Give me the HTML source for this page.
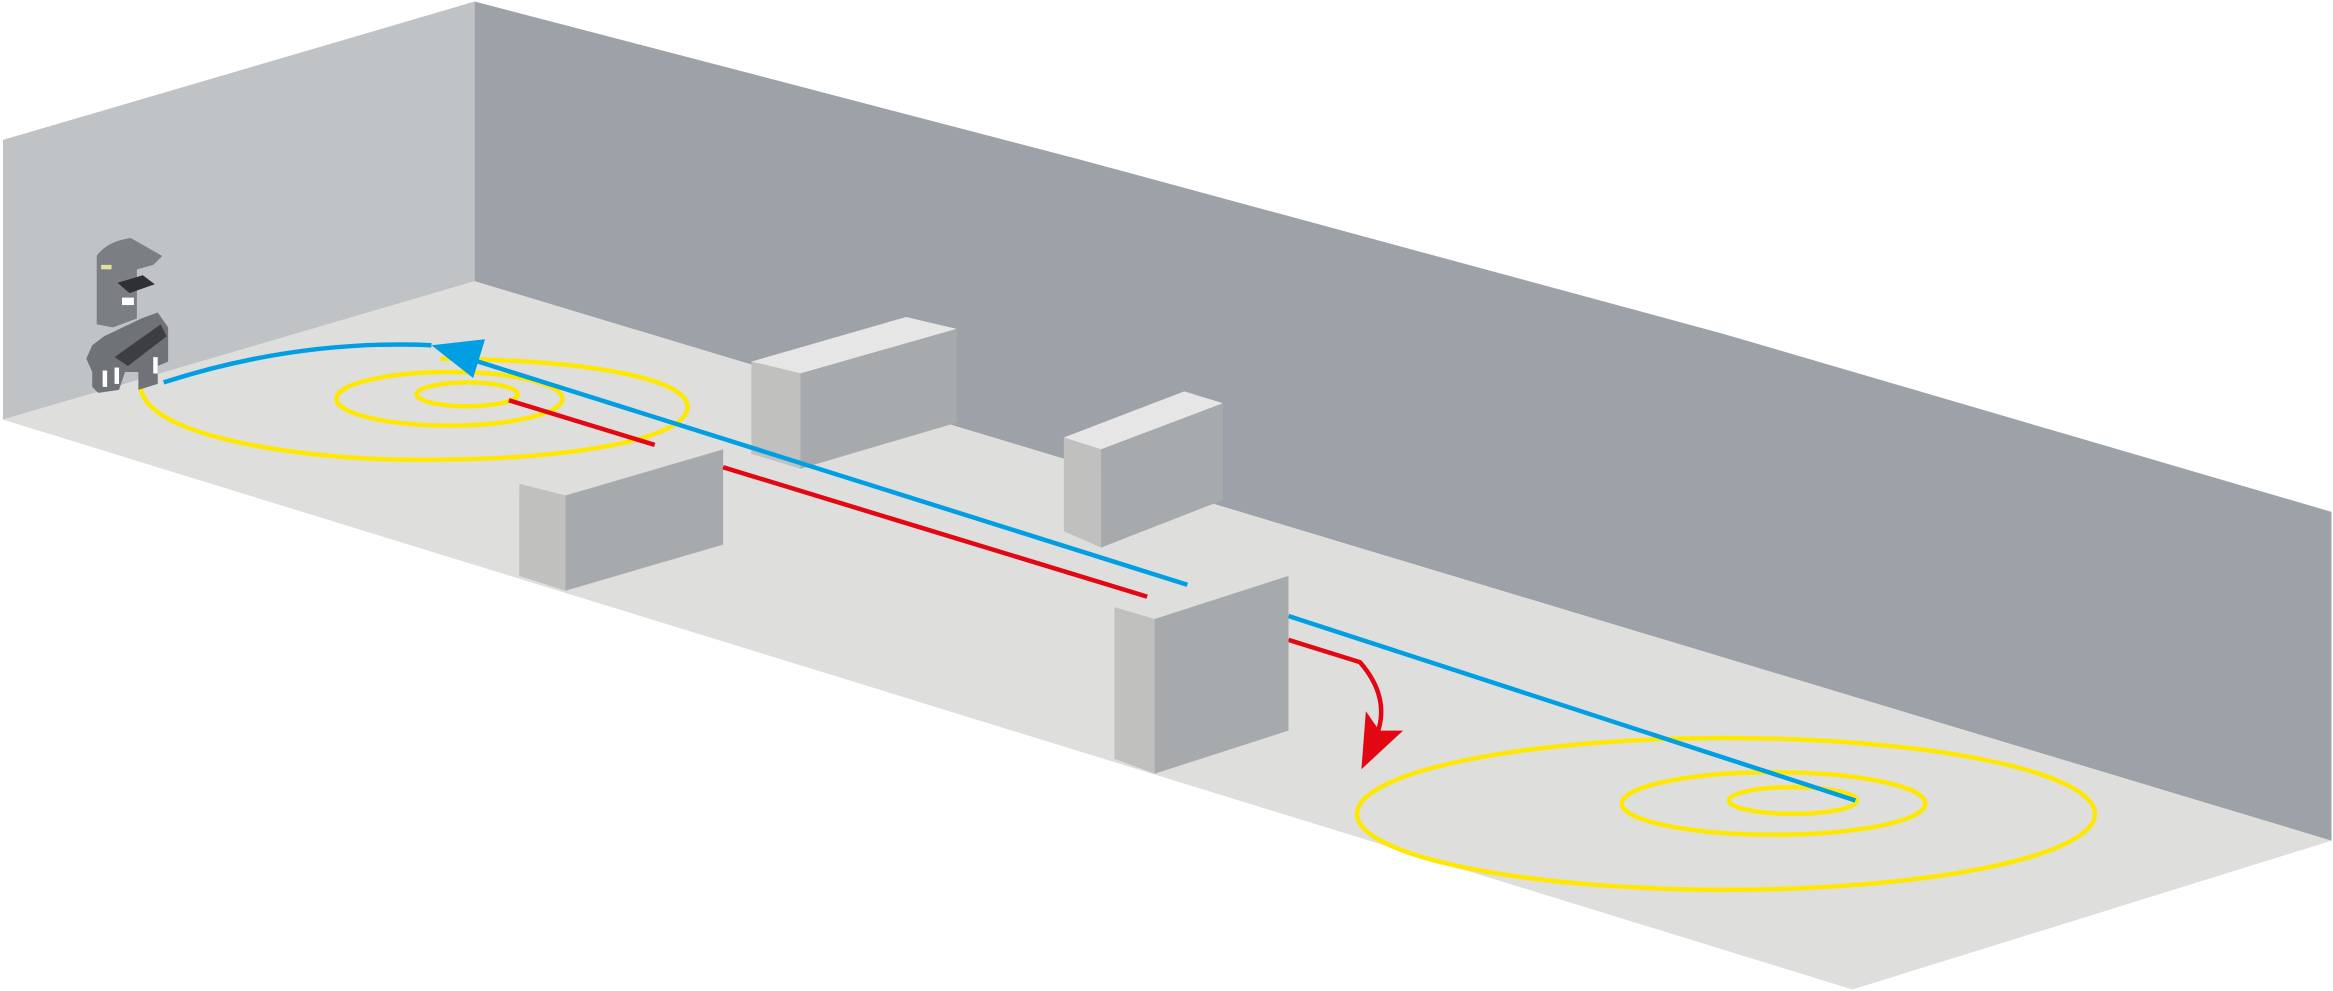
<!DOCTYPE html>
<html><head><meta charset="utf-8"><style>html,body{margin:0;padding:0;background:#fff;}svg{display:block}</style></head>
<body>
<svg width="2333" height="991" viewBox="0 0 1568 666" xmlns="http://www.w3.org/2000/svg">
<rect width="1568" height="666" fill="#fff"/>
<polygon points="2,94 319,1 319,189 2,282" fill="#c0c3c5"/>
<polygon points="319,1 725,107 1157,224 1567,344 1567,565 319,189" fill="#9da2a8"/>
<polygon points="2,282 319,189 1567,565 1245,665" fill="#dededd"/>
<!-- block 1 -->
<polygon points="505,243 609,213 643,221 538,251" fill="#e6e6e6"/>
<polygon points="505,243 538,251 538,315 505,305" fill="#c0c1bf"/>
<polygon points="538,251 643,221 643,284 538,315" fill="#a7aaad"/>
<!-- block 2 -->
<polygon points="715,294 796,263 822,271 740,302" fill="#e6e6e6"/>
<polygon points="715,294 740,302 740,368 715,357" fill="#c0c1bf"/>
<polygon points="740,302 822,271 822,336 740,368" fill="#a7aaad"/>
<!-- yellow -->
<g fill="none" stroke="#ffe800" stroke-width="3">
<path d="M95,256 C88,292 200,309 280,309 C400,309 465,292 462,272 C459,255 400,242 296,241"/>
<ellipse cx="302" cy="268" rx="76" ry="18"/>
<ellipse cx="314" cy="265" rx="34" ry="8"/>
<ellipse cx="1160" cy="547" rx="248" ry="51"/>
<ellipse cx="1192" cy="540" rx="102" ry="21"/>
<ellipse cx="1205" cy="538" rx="43" ry="9"/>
</g>
<!-- block 3 -->
<polygon points="349,325 380,333 380,397 349,387" fill="#c0c1bf"/>
<polygon points="380,333 486,302 486,366 380,397" fill="#a7aaad"/>
<!-- lines -->
<g fill="none" stroke-width="3">
<line x1="1247" y1="538" x2="866" y2="414" stroke="#009fe3"/>
<line x1="798" y1="393" x2="315" y2="241" stroke="#009fe3"/>
<path d="M110,257 Q200,228 290,232" stroke="#009fe3"/>
<line x1="342" y1="269" x2="440" y2="299" stroke="#e30613"/>
<line x1="486" y1="314" x2="771" y2="401" stroke="#e30613"/>
<path d="M866,430 L914,445 Q934,468 926,492" stroke="#e30613"/>
</g>
<polygon points="290,232 326,228 318,254" fill="#009fe3"/>
<polygon points="915,517 918,478 927,491 943,491" fill="#e30613"/>
<!-- block 4 -->
<polygon points="749,408 776,416 776,520 749,510" fill="#c0c1bf"/>
<polygon points="776,416 866,387 866,491 776,520" fill="#a7aaad"/>
<!-- robot -->
<g>
<path d="M65,172 Q72,162 88,160 L109,172 L103,178 L92,181 L92,214 L76,220 L65,218 Z" fill="#7b7e83"/>
<polygon points="58,241 62,232 70,226 95,214 106,210 113,220 113,243 106,246 106,258 93,262 93,250 84,250 80,262 66,264 62,260 62,250" fill="#6f7277"/>
<polygon points="79,190 96,185 104,191 87,197" fill="#2e3034"/>
<polygon points="77,240 108,218 112,226 86,246" fill="#3c3e42"/>
<rect x="82" y="200" width="8" height="5" fill="#fff"/>
<rect x="69" y="249" width="3" height="11" fill="#fff"/>
<rect x="77" y="247" width="3" height="11" fill="#fff"/>
<rect x="103" y="240" width="3" height="11" fill="#fff"/>
<rect x="68" y="178" width="7" height="3" fill="#e6e0a0"/>
</g>
</svg>
</body></html>
